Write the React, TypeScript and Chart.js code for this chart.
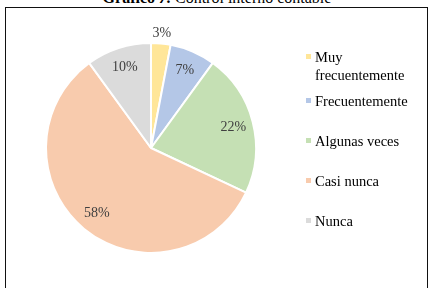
import React, { useEffect, useRef } from "react";
import { Chart, registerables } from "chart.js";

Chart.register(...registerables);

const categories = ["Muy frecuentemente", "Frecuentemente", "Algunas veces", "Casi nunca", "Nunca"];
const legendLines = [["Muy", "frecuentemente"], ["Frecuentemente"], ["Algunas veces"], ["Casi nunca"], ["Nunca"]];
const values = [3, 7, 22, 58, 10];
const colors = ["#FFE699", "#B4C7E7", "#C5E0B4", "#F8CBAD", "#DBDBDB"];

const FONT = "'Liberation Serif', 'Times New Roman', serif";

const labelPlugin = {
  id: "sliceLabels",
  afterDatasetsDraw(chart: any) {
    const ctx = chart.ctx;
    const meta = chart.getDatasetMeta(0);
    const data = chart.data.datasets[0].data as number[];
    const total = data.reduce((a, b) => a + b, 0);
    ctx.save();
    ctx.font = "14px " + FONT;
    ctx.fillStyle = "#404040";
    ctx.textAlign = "center";
    ctx.textBaseline = "middle";
    meta.data.forEach((arc: any, i: number) => {
      const p = arc.getProps(["x", "y", "startAngle", "endAngle", "outerRadius"], true);
      const span = p.endAngle - p.startAngle;
      const mid = (p.startAngle + p.endAngle) / 2;
      const r = span < 0.3 ? p.outerRadius * 1.1 : p.outerRadius * 0.81;
      const tx = p.x + Math.cos(mid) * r;
      const ty = p.y + Math.sin(mid) * r;
      ctx.fillText(Math.round((data[i] / total) * 100) + "%", tx, ty);
    });
    ctx.restore();
  },
};

export default function App() {
  const ref = useRef<HTMLCanvasElement>(null);
  useEffect(() => {
    if (!ref.current) return;
    const chart = new Chart(ref.current, {
      type: "pie",
      data: {
        labels: categories,
        datasets: [
          {
            data: values,
            backgroundColor: colors,
            borderColor: "#ffffff",
            borderWidth: 2,
          },
        ],
      },
      options: {
        responsive: false,
        animation: false,
        layout: { padding: { left: 45, top: 42, right: 174, bottom: 34 } },
        plugins: { legend: { display: false }, tooltip: { enabled: false }, title: { display: false } },
      },
      plugins: [labelPlugin],
    });
    return () => chart.destroy();
  }, []);

  return (
    <div style={{ position: "absolute", left: 0, top: 0, width: 431, height: 288, overflow: "hidden", background: "#fff", fontFamily: FONT }}>
      <div
        style={{
          position: "absolute",
          left: 0,
          top: -12,
          width: 434,
          height: 20,
          lineHeight: "20px",
          fontSize: 16,
          textAlign: "center",
          color: "#000",
          whiteSpace: "nowrap",
        }}
      >
        <b>Gráfico </b>
        <b><i>7. </i></b>
        <span>Control interno contable</span>
      </div>
      <div
        style={{
          position: "absolute",
          left: 5,
          top: 7,
          width: 423,
          height: 300,
          border: "1px solid #111",
          boxSizing: "border-box",
        }}
      />
      <canvas ref={ref} width={431} height={288} style={{ position: "absolute", left: 0, top: 0 }} />
      <div style={{ position: "absolute", left: 305, top: 48, fontSize: 14.5, color: "#000" }}>
        {legendLines.map((lines, i) => (
          <div key={i} style={{ position: "relative", paddingLeft: 10, lineHeight: "18px", marginBottom: i === 0 ? 8 : 22 }}>
            <span
              style={{
                position: "absolute",
                left: 1,
                top: 6,
                width: 5,
                height: 5,
                background: colors[i],
              }}
            />
            {lines.map((l, j) => (
              <div key={j}>{l}</div>
            ))}
          </div>
        ))}
      </div>
    </div>
  );
}
